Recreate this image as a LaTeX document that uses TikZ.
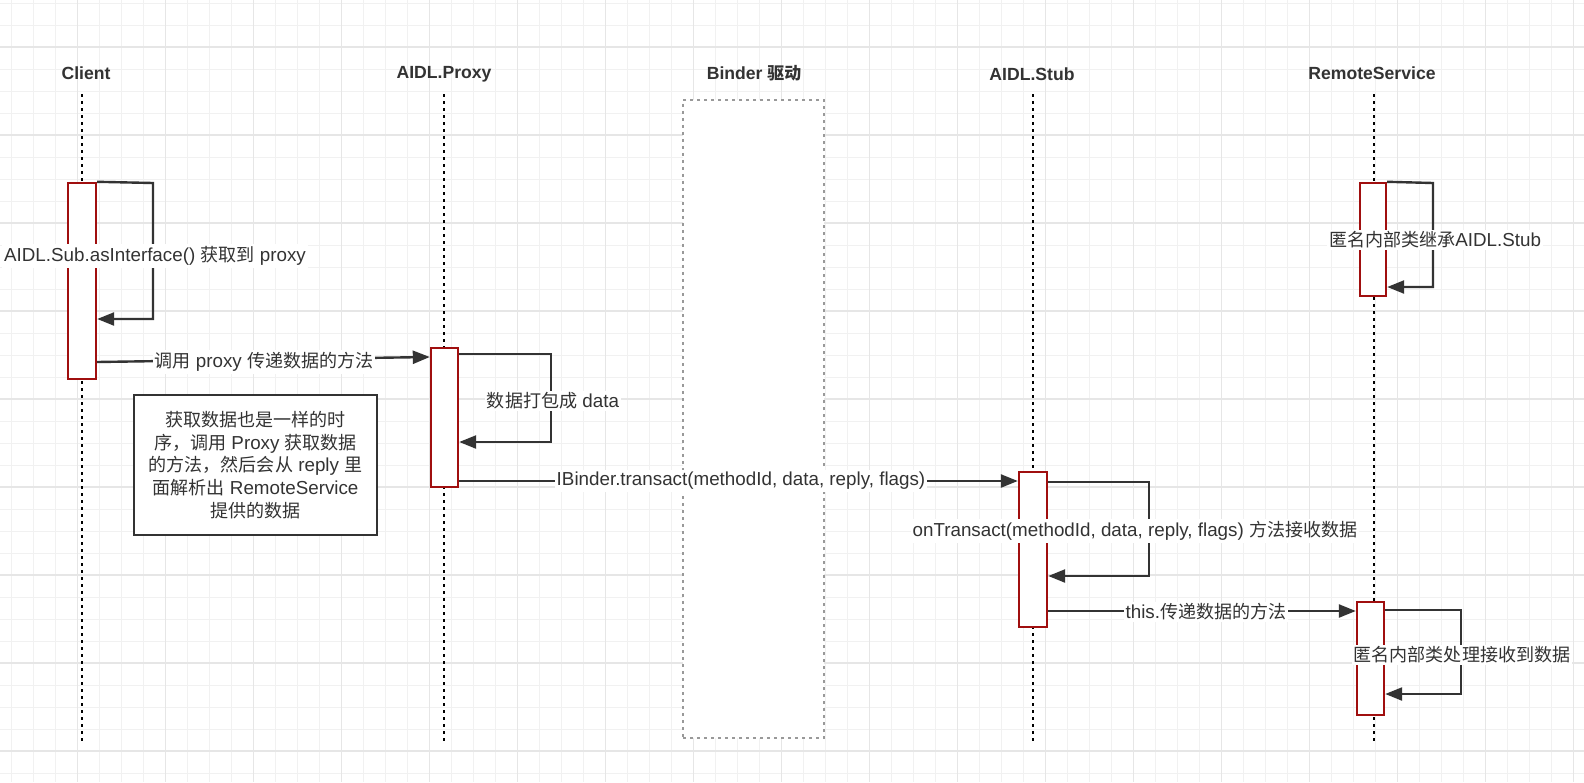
\documentclass[tikz,border=0pt]{standalone}
\usepackage{fontspec}
\usepackage{tikz}
\usetikzlibrary{arrows.meta, fit}
\setmainfont{Liberation Sans}
\newfontfamily\cjk[Scale = 0.96]{Noto Sans CJK SC}
\definecolor{ActRed}{HTML}{A00F0F}
\definecolor{LineGray}{HTML}{333333}
\definecolor{GridMinor}{HTML}{F1F1F1}
\definecolor{GridMajor}{HTML}{E6E6E6}
\definecolor{BinderGray}{HTML}{999999}

\begin{document}
\begin{tikzpicture}[x = 0.5pt, y = -0.5pt,
              every node/.style = {text = LineGray, font = \fontsize{9.4}{11.4}\selectfont},
              head/.style = {font = \bfseries\fontsize{8.8}{10}\selectfont},
              lifeline/.style = {line width = 1.4pt, dash pattern = on 1.4pt off 2.1pt},
              act/.style = {draw = ActRed, line width = 1.2pt, fill = white, inner sep = 0pt},
              msg/.style = {draw = LineGray, line width = 1.2pt, -{Triangle[length = 8.5pt, width = 6.5pt]}},
              lbl/.style = {fill = white, inner sep = 1pt}]
              \useasboundingbox (0,0) rectangle (1584,782);
              \fill [white] (0,0) rectangle (1584,782);
              \foreach \x in {11.3, 33.3, ..., 1584}
              \draw [GridMinor, line width = 0.5pt] (\x,0) -- (\x,782);
              \foreach \y in {3.3, 25.3, ..., 782}
              \draw [GridMinor, line width = 0.5pt] (0,\y) -- (1584,\y);
              \foreach \x in {77.3, 165.3, ..., 1584}
              \draw [GridMajor, line width = 0.8pt] (\x,0) -- (\x,782);
              \foreach \y in {46.7, 134.7, ..., 782}
              \draw [GridMajor, line width = 0.8pt] (0,\y) -- (1584,\y);
              \node [draw = BinderGray, line width = 1.3pt, dash pattern = on 1.3pt off 2.2pt, fill = white, inner sep = 0pt, fit = {(683,100) (824,738)}] (binderBox) {};
              \node [head] (client) at (86,73) {Client};
              \node [head] (proxy) at (444,74) {AIDL.Proxy};
              \node [head] (binder) at (754,73) {Binder {\cjk 驱动}};
              \node [head] (stub) at (1032,74) {AIDL.Stub};
              \node [head] (remote) at (1372,73) {RemoteService};
              \foreach \name/\x in {client/82, proxy/444, stub/1033, remote/1374}
              {\coordinate (\name Top) at (\x,94);
              \coordinate (\name Bot) at (\x,741);
              \draw [lifeline] (\name Top) -- (\name Bot);}
              \node [act, fit = {(68,183) (96,379)}] (clientAct) {};
              \node [act, fit = {(431,348) (458,487)}] (proxyAct) {};
              \node [act, fit = {(1019,472) (1047,627)}] (stubAct) {};
              \node [act, fit = {(1360,183) (1386,296)}] (remoteActA) {};
              \node [act, fit = {(1357,602) (1384,715)}] (remoteActB) {};
              \draw [msg] (clientAct.north east) -- (153,183) |- (clientAct.east |- 0,319);
              \draw [msg] (proxyAct.east |- 0,354) -- (551,354) |- (proxyAct.east |- 0,442);
              \draw [msg] (stubAct.east |- 0,482) -- (1149,482) |- (stubAct.east |- 0,576);
              \draw [msg] (remoteActA.north east) -- (1433,183) |- (remoteActA.east |- 0,287);
              \draw [msg] (remoteActB.east |- 0,610) -- (1461,610) |- (remoteActB.east |- 0,694);
              \draw [msg] (clientAct.east |- 0,362) -- (proxyAct.west |- 0,357);
              \draw [msg] (proxyAct.east |- 0,481) -- (stubAct.west |- 0,481);
              \draw [msg] (stubAct.east |- 0,611) -- (remoteActB.west |- 0,611);
              \node [lbl] (asIfLbl) at (155,256) {AIDL.Sub.asInterface() {\cjk 获取到} proxy};
              \node [lbl] (callLbl) at (264,362) {{\cjk 调用} proxy {\cjk 传递数据的方法}};
              \node [lbl] (packLbl) at (553,401) {{\cjk 数据打包成} data};
              \node [lbl] (transactLbl) at (741,481) {IBinder.transact(methodId, data, reply, flags)};
              \node [lbl] (onTransLbl) at (1135,531) {onTransact(methodId, data, reply, flags) {\cjk 方法接收数据}};
              \node [lbl] (thisLbl) at (1206,612) {this.{\cjk 传递数据的方法}};
              \node [lbl] (stubInLbl) at (1435,240) {{\cjk 匿名内部类继承}AIDL.Stub};
              \node [lbl] (handleLbl) at (1462,655) {{\cjk 匿名内部类处理接收到数据}};
              \node [draw = LineGray, line width = 1.2pt, fill = white, minimum width = 121.5pt, minimum height = 70pt, align = center] (note) at (255.5,465)
              {{\cjk 获取数据也是一样的时}\\
              {\cjk 序，调用} Proxy {\cjk 获取数据}\\
              {\cjk 的方法，然后会从} reply {\cjk 里}\\
              {\cjk 面解析出} RemoteService\\
              {\cjk 提供的数据}};
\end{tikzpicture}
\end{document}
